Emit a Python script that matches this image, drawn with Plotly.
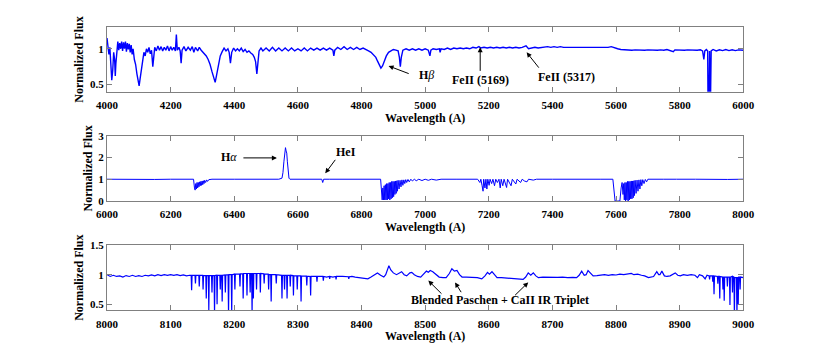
import plotly.graph_objects as go

# ---------------- Panel 1 : 4000-6000 A ----------------
WL1 = [4000, 4003, 4006, 4009, 4012, 4015, 4018, 4021, 4024, 4026,
       4028, 4031, 4034, 4037, 4040, 4043, 4046, 4049, 4052, 4055,
       4058, 4061, 4064, 4067, 4070, 4073, 4076, 4079, 4082, 4086,
       4090, 4094, 4098, 4101, 4104, 4108, 4112, 4116, 4120, 4124,
       4128, 4132, 4136, 4140, 4144, 4147, 4150, 4155, 4160, 4165,
       4170, 4175, 4180, 4185, 4190, 4195, 4200, 4205, 4210, 4215,
       4218, 4221, 4226, 4230, 4233, 4236, 4242, 4248, 4255, 4262,
       4268, 4273, 4278, 4285, 4290, 4296, 4300, 4306, 4312, 4318,
       4324, 4330, 4336, 4340, 4344, 4350, 4356, 4362, 4368, 4374,
       4380, 4384, 4388, 4392, 4398, 4404, 4410, 4416, 4422, 4428,
       4434, 4440, 4446, 4452, 4458, 4463, 4467, 4471, 4474, 4478,
       4484, 4490, 4500, 4510, 4520, 4530, 4540, 4550, 4560, 4570,
       4580, 4590, 4600, 4610, 4620, 4630, 4640, 4650, 4660, 4670,
       4680, 4690, 4700, 4710, 4713, 4716, 4725, 4735, 4745, 4755,
       4765, 4775, 4785, 4795, 4805, 4815, 4822, 4830, 4838, 4845,
       4850, 4856, 4861, 4866, 4872, 4878, 4885, 4892, 4900, 4908,
       4915, 4919, 4922, 4925, 4930, 4940, 4950, 4960, 4970, 4980,
       4990, 5000, 5010, 5015, 5018, 5025, 5035, 5045, 5047, 5050,
       5060, 5070, 5080, 5090, 5100, 5110, 5120, 5130, 5140, 5150,
       5160, 5169, 5175, 5185, 5195, 5205, 5215, 5225, 5235, 5245,
       5255, 5265, 5275, 5285, 5295, 5305, 5317, 5325, 5335, 5345,
       5355, 5365, 5375, 5385, 5395, 5405, 5415, 5425, 5435, 5445,
       5455, 5465, 5475, 5485, 5495, 5505, 5515, 5525, 5535, 5545,
       5555, 5565, 5575, 5585, 5595, 5605, 5615, 5625, 5640, 5650,
       5660, 5670, 5680, 5690, 5700, 5710, 5720, 5730, 5740, 5750,
       5760, 5770, 5780, 5785, 5795, 5805, 5815, 5825, 5835, 5845,
       5855, 5865, 5872, 5876, 5879, 5884, 5888, 5889, 5891, 5892,
       5894, 5895, 5896, 5897, 5899, 5905, 5915, 5925, 5935, 5945,
       5955, 5965, 5975, 5985, 5995, 6000]
FLUX1 = [1.15, 1.05, 0.92, 1.02, 0.75, 0.56, 0.70, 0.95, 0.85, 0.62,
         0.80, 1.02, 1.10, 0.98, 1.08, 1.00, 1.10, 0.97, 1.09, 1.00,
         1.10, 0.96, 1.08, 0.99, 1.07, 0.95, 1.05, 0.92, 1.00, 0.85,
         0.78, 0.65, 0.52, 0.48, 0.58, 0.72, 0.85, 0.95, 0.90, 1.00,
         0.95, 1.02, 0.93, 0.98, 0.75, 0.95, 1.02, 0.97, 1.04, 0.98,
         1.03, 0.97, 1.02, 0.98, 1.04, 0.97, 1.03, 0.98, 1.02, 0.97,
         1.20, 0.98, 1.02, 0.97, 0.80, 0.98, 1.03, 0.97, 1.02, 0.98,
         1.03, 0.95, 1.02, 0.97, 1.02, 0.98, 0.96, 0.93, 0.90, 0.85,
         0.78, 0.68, 0.58, 0.53, 0.62, 0.78, 0.90, 0.96, 1.01, 0.97,
         1.00, 0.95, 0.80, 0.95, 1.01, 0.97, 1.00, 0.97, 1.01, 0.96,
         0.99, 0.95, 0.97, 0.94, 0.92, 0.88, 0.82, 0.65, 0.85, 0.97,
         1.01, 0.97, 1.01, 0.97, 1.02, 0.97, 1.01, 0.97, 1.01, 0.97,
         1.01, 0.97, 1.00, 0.97, 1.01, 0.97, 1.01, 0.98, 1.01, 0.98,
         1.01, 0.98, 1.01, 0.98, 0.90, 0.98, 1.02, 0.99, 1.03, 0.99,
         1.02, 0.99, 1.02, 0.99, 1.01, 0.98, 0.97, 0.95, 0.92, 0.88,
         0.83, 0.76, 0.73, 0.76, 0.84, 0.90, 0.95, 0.97, 0.99, 0.98,
         0.97, 0.88, 0.75, 0.88, 0.98, 1.00, 0.98, 1.00, 0.98, 1.00,
         0.98, 1.00, 0.98, 0.90, 0.98, 1.00, 0.99, 1.00, 0.95, 1.00,
         0.99, 1.01, 0.99, 1.01, 1.00, 1.01, 1.00, 1.01, 1.00, 1.02,
         1.01, 1.03, 1.01, 1.02, 1.01, 1.02, 1.01, 1.02, 1.01, 1.02,
         1.01, 1.02, 1.01, 1.02, 1.01, 1.02, 1.04, 1.00, 1.01, 1.02,
         1.01, 1.02, 1.02, 1.03, 1.02, 1.03, 1.02, 1.03, 1.02, 1.02,
         1.01, 1.02, 1.01, 1.02, 1.01, 1.02, 1.01, 1.02, 1.01, 1.02,
         1.01, 1.02, 1.02, 1.03, 1.01, 1.00, 0.99, 0.985, 0.98, 0.98,
         0.985, 0.98, 0.985, 0.98, 0.985, 0.98, 0.985, 0.98, 0.985, 0.98,
         0.99, 0.98, 0.96, 0.985, 0.98, 0.985, 0.98, 0.985, 0.98, 0.985,
         0.98, 0.985, 0.97, 0.85, 0.97, 0.99, 0.97, 0.30, 0.00, 0.30,
         0.97, 0.30, 0.00, 0.30, 0.97, 0.99, 0.97, 0.985, 0.975, 0.99,
         0.975, 0.985, 0.975, 0.985, 0.975, 0.98]

# ---------------- Panel 2 : 6000-8000 A ----------------
WL2 = [6000, 6050, 6100, 6150, 6200, 6250, 6272, 6275, 6277, 6279,
       6281, 6283, 6285, 6287, 6289, 6291, 6293, 6295, 6297, 6299,
       6301, 6303, 6305, 6307, 6310, 6313, 6316, 6320, 6330, 6400,
       6450, 6500, 6540, 6550, 6553, 6556, 6559, 6561, 6563, 6565,
       6567, 6569, 6572, 6575, 6600, 6650, 6675, 6678, 6681, 6700,
       6750, 6800, 6860, 6865, 6867, 6869, 6871, 6873, 6875, 6877,
       6879, 6881, 6883, 6885, 6887, 6889, 6891, 6893, 6895, 6897,
       6899, 6901, 6903, 6905, 6907, 6909, 6911, 6913, 6915, 6918,
       6921, 6924, 6927, 6930, 6933, 6936, 6939, 6942, 6946, 6950,
       6955, 6960, 6966, 6972, 6980, 6990, 7000, 7010, 7020, 7035,
       7050, 7100, 7150, 7165, 7172, 7175, 7179, 7182, 7184, 7188,
       7191, 7194, 7197, 7201, 7204, 7209, 7213, 7218, 7222, 7227,
       7232, 7236, 7239, 7244, 7248, 7252, 7256, 7259, 7265, 7270,
       7274, 7280, 7285, 7289, 7295, 7300, 7305, 7312, 7320, 7325,
       7340, 7350, 7400, 7450, 7500, 7550, 7590, 7594, 7597, 7605,
       7612, 7616, 7619, 7622, 7624, 7626, 7628, 7630, 7632, 7634,
       7636, 7638, 7640, 7642, 7644, 7646, 7648, 7650, 7652, 7654,
       7656, 7658, 7660, 7663, 7666, 7669, 7672, 7675, 7678, 7681,
       7684, 7688, 7692, 7696, 7700, 7750, 7780, 7790, 7850, 7900,
       7920, 7950, 8000]
FLUX2 = [1.00, 0.99, 1.00, 0.99, 1.00, 0.99, 1.00, 0.60, 0.50, 0.80,
         0.55, 0.85, 0.60, 0.85, 0.65, 0.88, 0.70, 0.90, 0.72, 0.92,
         0.75, 0.93, 0.80, 0.95, 0.85, 0.97, 0.90, 0.98, 1.00, 1.00,
         1.00, 1.01, 1.00, 1.05, 1.30, 1.80, 2.30, 2.45, 2.30, 2.20,
         1.80, 1.30, 1.05, 1.00, 1.00, 1.00, 1.00, 0.85, 1.00, 1.00,
         1.00, 1.00, 1.00, 0.05, 0.60, 0.05, 0.70, 0.05, 0.75, 0.05,
         0.80, 0.05, 0.80, 0.10, 0.85, 0.05, 0.85, 0.10, 0.90, 0.15,
         0.90, 0.20, 0.90, 0.30, 0.92, 0.35, 0.93, 0.45, 0.95, 0.55,
         0.95, 0.65, 0.97, 0.72, 0.97, 0.80, 0.98, 0.85, 0.99, 0.88,
         1.00, 0.92, 1.00, 0.93, 1.00, 0.94, 1.00, 0.95, 1.00, 0.96,
         1.00, 1.00, 0.99, 1.00, 0.85, 1.00, 0.70, 0.45, 1.00, 0.60,
         1.00, 0.55, 1.00, 0.72, 1.00, 0.80, 1.00, 0.70, 1.00, 0.85,
         1.00, 0.60, 1.00, 0.70, 1.00, 0.80, 0.62, 1.00, 0.85, 0.70,
         1.00, 0.85, 0.78, 1.00, 0.90, 0.85, 1.00, 0.92, 0.88, 1.00,
         0.96, 1.00, 1.00, 0.99, 1.00, 1.00, 1.00, 0.50, 0.00, 0.00,
         0.00, 0.60, 0.85, 0.30, 0.80, 0.05, 0.85, 0.00, 0.85, 0.05,
         0.90, 0.00, 0.90, 0.05, 0.90, 0.10, 0.92, 0.10, 0.92, 0.15,
         0.93, 0.25, 0.95, 0.35, 0.96, 0.45, 0.97, 0.55, 0.98, 0.70,
         0.98, 0.80, 0.99, 0.88, 1.00, 1.00, 1.02, 1.00, 1.00, 0.98,
         0.97, 0.99, 1.00]

# ---------------- Panel 3 : 8000-9000 A ----------------
WL3 = [8000, 8005, 8010, 8015, 8020, 8025, 8030, 8035, 8040, 8045,
       8050, 8055, 8060, 8065, 8070, 8075, 8080, 8085, 8090, 8095,
       8100, 8105, 8110, 8115, 8120, 8125, 8130,
       8132.3, 8133, 8133.7, 8138.3, 8139, 8139.7, 8144.3, 8145, 8145.7,
       8150.3, 8151, 8151.7, 8155.3, 8156, 8156.7, 8159.3, 8160, 8160.7,
       8164.3, 8165, 8165.7, 8168.3, 8169, 8169.7, 8172.3, 8173, 8173.7,
       8177.3, 8178, 8178.7, 8180.3, 8181, 8181.7, 8185.3, 8186, 8186.7,
       8190.3, 8191, 8191.7, 8195.3, 8196, 8196.7, 8200.3, 8201, 8201.7,
       8208.3, 8209, 8209.7, 8213.3, 8214, 8214.7, 8219.3, 8220, 8220.7,
       8224.3, 8225, 8225.7, 8227.3, 8228, 8228.7, 8229.3, 8230, 8230.7,
       8234.3, 8235, 8235.7, 8240.3, 8241, 8241.7, 8246.3, 8247, 8247.7,
       8253.3, 8254, 8254.7, 8257.3, 8258, 8258.7, 8265.3, 8266, 8266.7,
       8274.3, 8275, 8275.7, 8278.3, 8279, 8279.7, 8282.3, 8283, 8283.7,
       8287.3, 8288, 8288.7, 8292.3, 8293, 8293.7, 8298.3, 8299, 8299.7,
       8304.3, 8305, 8305.7, 8313.3, 8314, 8314.7, 8319.3, 8320, 8320.7,
       8329.3, 8330, 8330.7, 8339.3, 8340, 8340.7,
       8345, 8349.3, 8350, 8350.7, 8355, 8359.3, 8360, 8360.7, 8365, 8370,
       8379.3, 8380, 8380.7, 8385, 8390, 8395,
       8400, 8405, 8410, 8415, 8420, 8425, 8430, 8435,
       8438, 8441, 8443, 8446, 8450, 8455, 8460, 8463, 8467, 8471,
       8476, 8479, 8483, 8488, 8493, 8498, 8502, 8505, 8508, 8512,
       8517, 8522, 8528, 8533, 8538, 8542, 8546, 8550, 8554, 8558,
       8565, 8570, 8576, 8582, 8589, 8594, 8598, 8601, 8605, 8609,
       8613, 8620, 8628, 8635, 8642, 8648, 8654, 8658, 8662, 8666,
       8670, 8674, 8678, 8685, 8692, 8700, 8708, 8716, 8724, 8732,
       8738, 8742, 8746, 8750, 8753, 8756, 8760, 8764, 8770, 8776,
       8782, 8788, 8794, 8800, 8806, 8812, 8818, 8824, 8828, 8834,
       8840, 8845, 8851, 8855, 8859, 8864, 8867, 8869, 8872, 8876,
       8880, 8885, 8889, 8893, 8897, 8901, 8906, 8912, 8918, 8924,
       8928, 8931, 8936, 8940, 8943,
       8946.3, 8947, 8947.7, 8951.3, 8952, 8952.7, 8953.3, 8954, 8954.7,
       8959.3, 8960, 8960.7, 8962.3, 8963, 8963.7, 8967.3, 8968, 8968.7,
       8969.3, 8970, 8970.7, 8974.3, 8975, 8975.7, 8978.3, 8979, 8979.7,
       8982.3, 8983, 8983.7, 8985.3, 8986, 8986.7, 8989.3, 8990, 8990.7,
       8991.3, 8992, 8992.7, 8994.3, 8995, 8995.7, 9000]
FLUX3 = [1.00, 0.97, 0.99, 0.97, 0.98, 0.96, 0.985, 0.97, 0.99, 0.97,
         0.985, 0.97, 0.99, 0.98, 0.995, 0.98, 1.00, 0.985, 1.00, 0.99,
         1.00, 0.99, 1.00, 0.985, 0.995, 0.98, 0.99,
         0.99, 0.74, 0.99, 0.99, 0.85, 0.99, 0.99, 0.80, 0.99,
         0.99, 0.75, 0.985, 0.985, 0.60, 0.985, 0.985, 0.40, 0.985,
         0.985, 0.70, 0.985, 0.985, 0.35, 0.985, 0.99, 0.50, 0.99,
         0.99, 0.75, 0.99, 0.99, 0.55, 0.99, 0.995, 0.70, 0.995,
         1.00, 0.35, 1.00, 1.00, 0.35, 1.00, 1.01, 0.75, 1.01,
         1.01, 0.80, 1.015, 1.015, 0.60, 1.02, 1.02, 0.65, 1.02,
         1.02, 0.70, 1.02, 1.02, 0.35, 1.02, 1.02, 0.60, 1.02,
         1.02, 0.75, 1.02, 1.02, 0.70, 1.02, 1.015, 0.85, 1.01,
         1.01, 0.75, 1.00, 1.00, 0.55, 1.00, 1.00, 0.85, 1.00,
         0.99, 0.60, 0.99, 0.99, 0.75, 0.99, 0.99, 0.60, 0.99,
         0.99, 0.80, 0.99, 0.985, 0.65, 0.985, 0.98, 0.75, 0.98,
         0.98, 0.55, 0.98, 0.975, 0.82, 0.975, 0.97, 0.65, 0.97,
         0.97, 0.88, 0.97, 0.97, 0.90, 0.97,
         0.96, 0.97, 0.93, 0.97, 0.96, 0.97, 0.92, 0.97, 0.965, 0.97,
         0.965, 0.93, 0.965, 0.97, 0.96, 0.95,
         0.95, 0.94, 0.93, 0.96, 1.00, 1.03, 0.99, 0.96,
         1.00, 1.10, 1.15, 1.08, 1.03, 1.00, 1.04, 1.05, 1.00, 0.98,
         1.03, 1.04, 1.00, 0.97, 0.96, 1.02, 1.06, 1.04, 1.07, 1.05,
         1.00, 0.96, 0.95, 0.95, 1.02, 1.10, 1.06, 1.07, 1.00, 0.96,
         0.96, 0.955, 0.96, 0.95, 0.93, 0.98, 1.04, 1.01, 1.05, 0.99,
         0.95, 0.95, 0.94, 0.94, 0.93, 0.925, 0.92, 0.96, 1.03, 0.99,
         1.03, 0.98, 0.95, 0.96, 0.955, 0.96, 0.955, 0.96, 0.95, 0.955,
         0.95, 0.99, 1.06, 0.99, 1.00, 1.07, 1.02, 0.98, 0.985, 0.99,
         1.00, 0.99, 1.00, 0.995, 1.01, 1.00, 1.01, 1.02, 1.00, 1.01,
         0.99, 0.98, 0.95, 0.965, 0.97, 1.05, 1.00, 1.00, 1.06, 0.98,
         0.97, 0.98, 1.00, 1.03, 0.99, 0.98, 1.00, 0.99, 1.00, 0.99,
         0.95, 1.00, 0.98, 0.93, 0.99,
         0.98, 0.92, 0.98, 0.98, 0.88, 0.98, 0.98, 0.67, 0.98,
         0.97, 0.85, 0.97, 0.97, 0.60, 0.97, 0.96, 0.75, 0.96,
         0.96, 0.56, 0.96, 0.96, 0.80, 0.96, 0.96, 0.49, 0.96,
         0.97, 0.70, 0.97, 0.96, 0.30, 0.95, 0.95, 0.30, 0.95,
         0.95, 0.50, 0.96, 0.96, 0.75, 0.96, 0.95]

assert len(WL1) == len(FLUX1)
assert len(WL2) == len(FLUX2)
assert len(WL3) == len(FLUX3)

X_RANGES = [[4000, 6000], [6000, 8000], [8000, 9000]]
Y_RANGES = [[0.4, 1.3], [0, 3], [0.4, 1.5]]
X_TICKS = [[4000, 4200, 4400, 4600, 4800, 5000, 5200, 5400, 5600, 5800, 6000],
           [6000, 6200, 6400, 6600, 6800, 7000, 7200, 7400, 7600, 7800, 8000],
           [8000, 8100, 8200, 8300, 8400, 8500, 8600, 8700, 8800, 8900, 9000]]
Y_TICKS = [[0.5, 1], [0, 1, 2, 3], [0.5, 1, 1.5]]
Y_TICKTEXT = [["0.5", "1"], ["0", "1", "2", "3"], ["0.5", "1", "1.5"]]

X_LABEL = "Wavelength (A)"
Y_LABEL = "Normalized Flux"

FONT = "Liberation Serif"
AXCOL = "#808080"
LINE_W = [1.4, 1.0, 1.2]

fig = go.Figure()
series = [(WL1, FLUX1), (WL2, FLUX2), (WL3, FLUX3)]
for i, (wl, fl) in enumerate(series):
    sfx = "" if i == 0 else str(i + 1)
    fig.add_trace(go.Scatter(x=wl, y=fl, mode="lines",
                             line=dict(color="#0000ff", width=LINE_W[i]),
                             xaxis="x" + sfx, yaxis="y" + sfx,
                             showlegend=False, hoverinfo="skip"))

x_dom = [107 / 822, 743.3 / 822]
y_doms = [[1 - 91.7 / 364, 1 - 27.3 / 364],
          [1 - 201 / 364, 1 - 135.7 / 364],
          [1 - 310.3 / 364, 1 - 245 / 364]]

layout = dict(width=822, height=364, margin=dict(l=0, r=0, t=0, b=0),
              paper_bgcolor="white", plot_bgcolor="white", showlegend=False,
              font=dict(family=FONT, color="black"))
for i in range(3):
    sfx = "" if i == 0 else str(i + 1)
    layout["xaxis" + sfx] = dict(
        domain=x_dom, anchor="y" + sfx, range=X_RANGES[i],
        tickvals=X_TICKS[i], ticktext=["<b>%d</b>" % v for v in X_TICKS[i]],
        ticks="inside", ticklen=5, tickcolor=AXCOL, showline=True,
        linecolor=AXCOL, linewidth=1, mirror="ticks", showgrid=False,
        zeroline=False, automargin=False, ticklabelstandoff=3,
        tickfont=dict(size=11, family=FONT, color="black"),
        title=dict(text="<b>" + X_LABEL + "</b>", standoff=2,
                   font=dict(size=12, family=FONT, color="black")))
    layout["yaxis" + sfx] = dict(
        domain=y_doms[i], anchor="x" + sfx, range=Y_RANGES[i],
        tickvals=Y_TICKS[i], ticktext=["<b>" + t + "</b>" for t in Y_TICKTEXT[i]],
        ticks="inside", ticklen=5, tickcolor=AXCOL, showline=True,
        linecolor=AXCOL, linewidth=1, mirror="ticks", showgrid=False,
        zeroline=False, automargin=False,
        tickfont=dict(size=11, family=FONT, color="black"),
        title=dict(text="<b>" + Y_LABEL + "</b>", standoff=3,
                   font=dict(size=12, family=FONT, color="black")))
fig.update_layout(**layout)

ANN_FONT = dict(size=12, family=FONT, color="black")
arrows = [
    # (xref, yref, head_x, head_y, tail_x, tail_y)
    ("x", "y", 4885, 0.76, 4953, 0.645),
    ("x", "y", 5173, 1.02, 5173, 0.67),
    ("x", "y", 5319, 0.95, 5361, 0.715),
    ("x2", "y2", 6534, 1.98, 6424, 1.98),
    ("x2", "y2", 6686, 1.27, 6721, 1.96),
    ("x3", "y3", 8505, 0.90, 8528, 0.655),
    ("x3", "y3", 8547, 0.87, 8558, 0.68),
    ("x3", "y3", 8662, 0.87, 8639, 0.63),
]
for xr, yr, hx, hy, tx, ty in arrows:
    fig.add_annotation(x=hx, y=hy, ax=tx, ay=ty, xref=xr, yref=yr,
                       axref=xr, ayref=yr, text="", showarrow=True,
                       arrowhead=2, arrowsize=1, arrowwidth=1,
                       arrowcolor="black")

labels = [
    ("x", "y", 4975, 0.635, "<b>H</b><i>β</i>", "left"),
    ("x", "y", 5173, 0.565, "<b>FeII (5169)</b>", "center"),
    ("x", "y", 5445, 0.61, "<b>FeII (5317)</b>", "center"),
    ("x2", "y2", 6383, 2.0, "<b>H</b><i>α</i>", "center"),
    ("x2", "y2", 6752, 2.24, "<b>HeI</b>", "center"),
    ("x3", "y3", 8617, 0.567, "<b>Blended Paschen + CaII IR Triplet</b>", "center"),
]
for xr, yr, lx, ly, txt, anc in labels:
    fig.add_annotation(x=lx, y=ly, xref=xr, yref=yr, text=txt,
                       showarrow=False, xanchor=anc, font=ANN_FONT)

fig.write_html("out.html", config={"displayModeBar": False},
               post_script="document.body.style.margin='0';")
